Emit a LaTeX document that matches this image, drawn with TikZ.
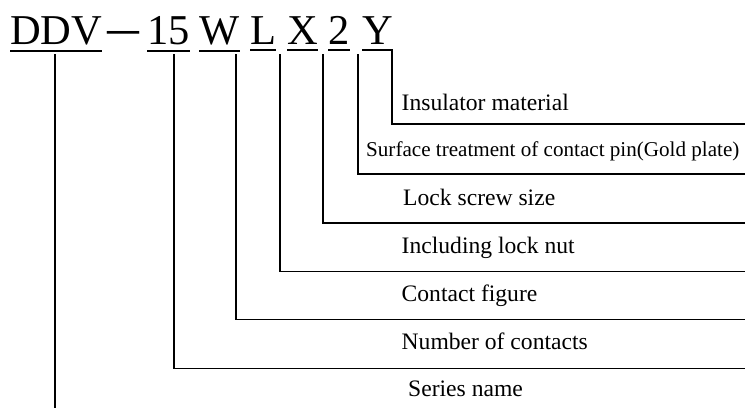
\documentclass[tikz,border=0pt]{standalone}
\usepackage{fontspec}
\usepackage{graphicx}
\setmainfont{Liberation Serif}
\begin{document}
\begin{tikzpicture}[x=1pt,y=-1pt,
  ttl/.style={anchor=base west, inner sep=0pt, font=\fontsize{42.5}{42.5}\selectfont},
  lab/.style={anchor=base west, inner sep=0pt, font=\fontsize{23.6}{23.6}\selectfont},
  vline/.style={line width=1.2pt},
  hline/.style={line width=1.6pt},
  uline/.style={line width=2pt}]
\useasboundingbox (0,0) rectangle (745,410);
% title pieces
\node[ttl] (tD) at (10,44) {DDV};
\node[ttl, font=\fontsize{32}{32}\selectfont] (dash) at (107,44) {\raisebox{-1.5pt}{\scalebox{1}[1.7]{—}}};
\node[ttl] (t15) at (147,44) {15};
\node[ttl] (tW) at (199,44) {W};
\node[ttl] (tL) at (250,44) {L};
\node[ttl] (tX) at (287,44) {X};
\node[ttl] (t2) at (328,44) {2};
\node[ttl] (tY) at (362,44) {Y};
\foreach \n in {tD,t15,tW,tL,tX,t2,tY}
  \draw[uline] ([yshift=-6pt]\n.south west) -- ([yshift=-6pt]\n.south east);
% labels
\node[lab] (lY) at (401.5,110.7) {Insulator material};
\node[lab, font=\fontsize{21.1}{21.1}\selectfont] (l2) at (366,156.7) {Surface treatment of contact pin(Gold plate)};
\node[lab] (lX) at (403,205.7) {Lock screw size};
\node[lab] (lL) at (401.5,253.3) {Including lock nut};
\node[lab] (lW) at (401.5,301.7) {Contact figure};
\node[lab] (l15) at (401.5,349) {Number of contacts};
\node[lab] (lD) at (408,396.7) {Series name};
% connector points
\coordinate (sY) at (392,51);   \coordinate (kY) at (392,124);   \coordinate (eY) at (745,124);
\coordinate (s2) at (358,54);   \coordinate (k2) at (358,174);   \coordinate (e2) at (745,174);
\coordinate (sX) at (323,54);   \coordinate (kX) at (323,222.7); \coordinate (eX) at (745,222.7);
\coordinate (sL) at (280,54);   \coordinate (kL) at (280,271.5); \coordinate (eL) at (745,271.5);
\coordinate (sW) at (236,54);   \coordinate (kW) at (236,319.3); \coordinate (eW) at (745,319.3);
\coordinate (s15) at (174,54);  \coordinate (k15) at (174,368.3); \coordinate (e15) at (745,368.3);
\coordinate (sD) at (55,54);    \coordinate (eD) at (55,408);
\foreach \n in {Y,2,X,L,W,15}{
  \draw[vline] (s\n) -- ([yshift=-0.8pt]k\n);
  \draw[hline] ([xshift=-0.6pt]k\n) -- (e\n);
}
\draw[vline] (sD) -- (eD);
\end{tikzpicture}
\end{document}
